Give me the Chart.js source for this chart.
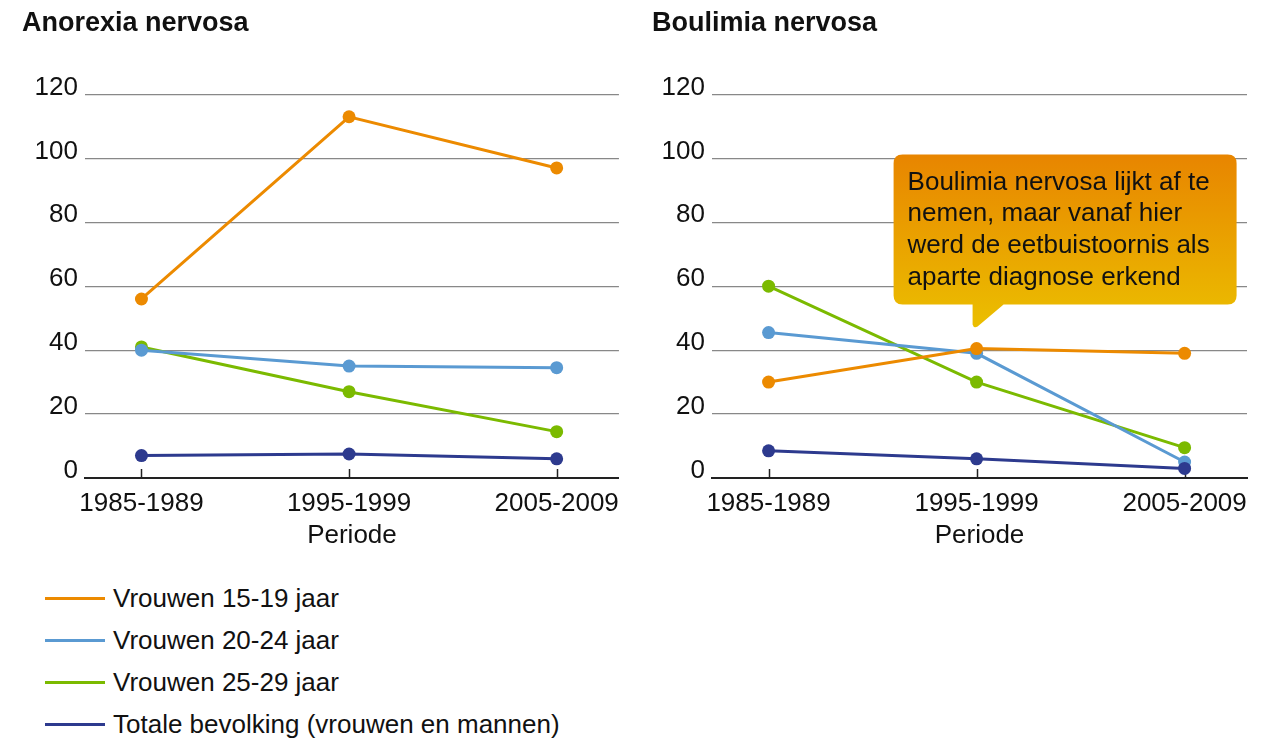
<!DOCTYPE html>
<html lang="nl">
<head>
<meta charset="utf-8">
<title>Anorexia en boulimia nervosa</title>
<script src="https://cdn.jsdelivr.net/npm/chart.js@4.4.1/dist/chart.umd.min.js"></script>
<style>
    body { margin: 0; background: #fff; font-family: "Liberation Sans", Arial, sans-serif; }
    .panel { position: absolute; top: 0; }
    #anorexia-wrap { left: 0; }
    #boulimia-wrap { left: 630px; }
    #legend { position: absolute; left: 45px; top: 577px; }
    .legend-item { display: flex; align-items: center; height: 42px; font-size: 26px; color: #111; }
    .legend-line { width: 60px; height: 3px; margin-right: 8px; }
</style>
</head>
<body>
<div class="panel" id="anorexia-wrap"><canvas id="anorexiaChart" width="630" height="560"></canvas></div>
<div class="panel" id="boulimia-wrap"><canvas id="boulimiaChart" width="630" height="560"></canvas></div>
<div id="legend"></div>

<script>
// Categories and ticks
const periods = ['1985-1989', '1995-1999', '2005-2009'];
const yTicks = [0, 20, 40, 60, 80, 100, 120];

// Series
const seriesLabels = ['Vrouwen 15-19 jaar', 'Vrouwen 20-24 jaar', 'Vrouwen 25-29 jaar', 'Totale bevolking (vrouwen en mannen)'];
const seriesColors = ['#EC8A00', '#5A9AD2', '#7BBA00', '#2D3A8E'];

// Anorexia nervosa
const anorexia15_19 = [56, 113, 97];
const anorexia20_24 = [40, 35, 34.5];
const anorexia25_29 = [41, 27, 14.5];
const anorexiaTotaal = [7, 7.5, 6];

// Boulimia nervosa
const boulimia15_19 = [30, 40.5, 39];
const boulimia20_24 = [45.5, 39, 5];
const boulimia25_29 = [60, 30, 9.5];
const boulimiaTotaal = [8.5, 6, 3];

const calloutLines = [
    'Boulimia nervosa lijkt af te',
    'nemen, maar vanaf hier',
    'werd de eetbuistoornis als',
    'aparte diagnose erkend'
];

const FONT = '"Liberation Sans", Arial, sans-serif';
const TEXT = '#111';

// small tick marks pointing up from the x axis
const innerTicksPlugin = {
    id: 'innerTicks',
    beforeDatasetsDraw(chart) {
        const { ctx, chartArea, scales } = chart;
        ctx.save();
        ctx.strokeStyle = '#222';
        ctx.lineWidth = 1.5;
        scales.x.ticks.forEach(t => {
            const px = Math.round(scales.x.getPixelForValue(t.value)) + 0.5;
            ctx.beginPath();
            ctx.moveTo(px, chartArea.bottom);
            ctx.lineTo(px, chartArea.bottom - 9);
            ctx.stroke();
        });
        ctx.restore();
    }
};

// speech bubble pointing at a data point
const calloutPlugin = {
    id: 'callout',
    afterDraw(chart) {
        const opts = chart.options.plugins.callout;
        if (!opts || !opts.lines) return;
        const ctx = chart.ctx;
        const tipX = chart.scales.x.getPixelForValue(opts.index);
        const tipY = chart.scales.y.getPixelForValue(opts.value) - 21;
        const left = tipX - 83, right = tipX + 260;
        const top = tipY - 173, bottom = tipY - 23;
        const r = 9;

        const grad = ctx.createLinearGradient(0, top, 0, tipY);
        grad.addColorStop(0, '#E88500');
        grad.addColorStop(1, '#EBBF00');

        ctx.save();
        ctx.fillStyle = grad;
        ctx.beginPath();
        ctx.moveTo(left + r, top);
        ctx.lineTo(right - r, top);
        ctx.quadraticCurveTo(right, top, right, top + r);
        ctx.lineTo(right, bottom - r);
        ctx.quadraticCurveTo(right, bottom, right - r, bottom);
        ctx.lineTo(tipX + 27, bottom);
        ctx.lineTo(tipX + 1, tipY - 1);
        ctx.quadraticCurveTo(tipX - 3, tipY + 1, tipX - 4, tipY - 3);
        ctx.lineTo(tipX - 4, bottom);
        ctx.lineTo(left + r, bottom);
        ctx.quadraticCurveTo(left, bottom, left, bottom - r);
        ctx.lineTo(left, top + r);
        ctx.quadraticCurveTo(left, top, left + r, top);
        ctx.closePath();
        ctx.fill();

        ctx.fillStyle = TEXT;
        ctx.font = '26px ' + FONT;
        ctx.textBaseline = 'alphabetic';
        ctx.textAlign = 'left';
        opts.lines.forEach((line, i) => {
            ctx.fillText(line, left + 14, top + 35 + i * 31.7);
        });
        ctx.restore();
    }
};

function buildDatasets(seriesValues) {
    const drawOrder = [2, 3, 4, 1];
    return seriesValues.map((values, i) => ({
        label: seriesLabels[i],
        data: values.map((v, j) => ({ x: j, y: v })),
        borderColor: seriesColors[i],
        backgroundColor: seriesColors[i],
        borderWidth: 3,
        pointRadius: 6.5,
        pointBorderWidth: 0,
        pointBackgroundColor: seriesColors[i],
        tension: 0,
        order: drawOrder[i]
    }));
}

function makeChart(canvasId, title, seriesValues, yAxisWidth, padRight, callout) {
    return new Chart(document.getElementById(canvasId), {
        type: 'line',
        data: { datasets: buildDatasets(seriesValues) },
        options: {
            responsive: false,
            animation: false,
            events: [],
            layout: { padding: { left: 22, right: padRight, top: 0, bottom: 0 } },
            scales: {
                x: {
                    type: 'linear',
                    min: -0.272,
                    max: 2.3,
                    afterBuildTicks: scale => {
                        scale.ticks = periods.map((p, i) => ({ value: i }));
                    },
                    afterFit: scale => { scale.height = 82; },
                    ticks: {
                        callback: v => periods[v],
                        autoSkip: false,
                        maxRotation: 0,
                        padding: 10,
                        color: TEXT,
                        font: { family: FONT, size: 26 }
                    },
                    grid: { display: true, drawOnChartArea: false, drawTicks: false },
                    border: { display: true, color: '#222', width: 2 },
                    title: {
                        display: true,
                        text: 'Periode',
                        color: TEXT,
                        font: { family: FONT, size: 26 },
                        padding: { top: 0, bottom: 9 }
                    }
                },
                y: {
                    min: 0,
                    max: 120,
                    afterBuildTicks: scale => {
                        scale.ticks = yTicks.map(v => ({ value: v }));
                    },
                    afterFit: scale => { scale.width = yAxisWidth; },
                    ticks: {
                        padding: 7,
                        labelOffset: -7,
                        color: TEXT,
                        font: { family: FONT, size: 26 }
                    },
                    grid: { color: '#888', lineWidth: 1.2, drawTicks: false },
                    border: { display: false }
                }
            },
            plugins: {
                legend: { display: false },
                tooltip: { enabled: false },
                title: {
                    display: true,
                    text: title,
                    align: 'start',
                    color: TEXT,
                    font: { family: FONT, size: 27, weight: 'bold' },
                    padding: { top: 7, bottom: 55 }
                },
                callout: callout
            }
        },
        plugins: [innerTicksPlugin, calloutPlugin]
    });
}

function buildLegend() {
    const legend = document.getElementById('legend');
    legend.innerHTML = seriesLabels.map((label, i) => `
        <div class="legend-item">
            <span class="legend-line" style="background:${seriesColors[i]}"></span>
            <span>${label}</span>
        </div>
    `).join('');
}

document.addEventListener('DOMContentLoaded', () => {
    makeChart('anorexiaChart', 'Anorexia nervosa',
        [anorexia15_19, anorexia20_24, anorexia25_29, anorexiaTotaal], 63, 10, null);
    makeChart('boulimiaChart', 'Boulimia nervosa',
        [boulimia15_19, boulimia20_24, boulimia25_29, boulimiaTotaal], 60, 13,
        { lines: calloutLines, index: 1, value: boulimia15_19[1] });
    buildLegend();
});
</script>
</body>
</html>
